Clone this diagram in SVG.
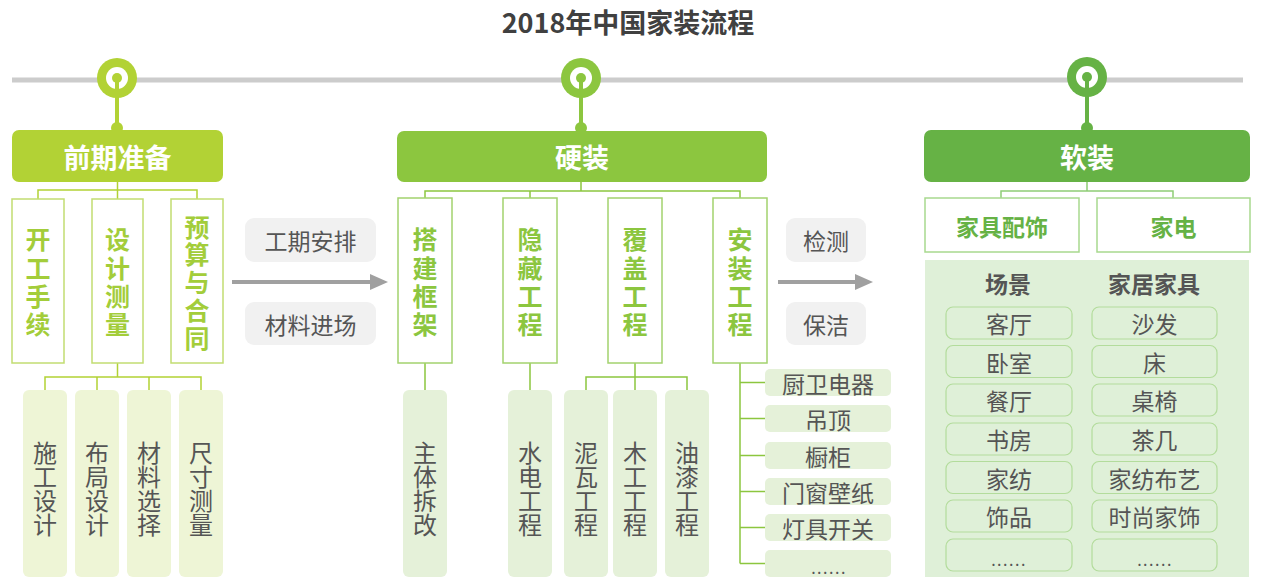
<svg xmlns="http://www.w3.org/2000/svg" width="1269" height="584" viewBox="0 0 1269 584">
<defs>
<style>
text{font-family:"Noto Sans CJK SC","Noto Sans",sans-serif;}
.title{font-size:27px;font-weight:bold;fill:#404040;}
.hdr{font-size:27px;font-weight:bold;fill:#fff;text-anchor:middle;dominant-baseline:central;}
.v1{font-size:25px;font-weight:bold;fill:#a3cd3a;text-anchor:middle;writing-mode:vertical-rl;letter-spacing:3.3px;}
.v1b{letter-spacing:2.75px;}
.v2{font-size:25px;font-weight:bold;fill:#8cc63f;text-anchor:middle;writing-mode:vertical-rl;letter-spacing:3.3px;}
.g3{font-size:23px;font-weight:bold;fill:#66b245;text-anchor:middle;dominant-baseline:central;}
.sv{font-size:24px;fill:#555;text-anchor:middle;writing-mode:vertical-rl;}
.lbl{font-size:23px;fill:#555;text-anchor:middle;dominant-baseline:central;}
.hb{font-size:23px;font-weight:bold;fill:#555;text-anchor:middle;dominant-baseline:central;}
.dots{font-size:16px;fill:#555;text-anchor:middle;letter-spacing:1.5px;}
.b1{fill:#fff;stroke:#c2dd72;stroke-width:1.5;}
.b2{fill:#fff;stroke:#a3d26e;stroke-width:1.5;}
.b3{fill:#fff;stroke:#a8d98e;stroke-width:1.5;}
.s1{fill:#eef5d6;}
.s2{fill:#e5f1d9;}
.pill{fill:none;stroke:#b3dc9c;stroke-width:1.2;}
.lb{fill:#f1f1f1;}
.c1{stroke:#b2d235;stroke-width:1.5;fill:none;}
.c2{stroke:#8cc63f;stroke-width:1.5;fill:none;}
.c3{stroke:#8fcd76;stroke-width:1.5;fill:none;}
.arr{stroke:#a0a0a0;stroke-width:4;fill:none;marker-end:url(#ah);}
</style>
<marker id="ah" markerWidth="5" markerHeight="4" refX="0.5" refY="2" orient="auto" markerUnits="strokeWidth">
<path d="M0,0 L4.5,2 L0,4 Z" fill="#a0a0a0"/>
</marker>
</defs>
<rect width="1269" height="584" fill="#fff"/>
<text class="title" x="628" y="33" text-anchor="middle">2018年中国家装流程</text>

<g id="timeline">
<line x1="12" y1="80" x2="1243" y2="80" stroke="#cccccc" stroke-width="5"/>
</g>

<g id="connectors">
<circle cx="117" cy="78" r="20" fill="#b2d235"/>
<circle cx="117" cy="78" r="11" fill="#fff"/>
<line x1="117" y1="78" x2="117" y2="128" stroke="#b2d235" stroke-width="4"/>
<circle cx="117" cy="78" r="5" fill="#b2d235"/>
<circle cx="117" cy="128" r="6" fill="#b2d235"/>

<circle cx="581" cy="78" r="20" fill="#8cc63f"/>
<circle cx="581" cy="78" r="11" fill="#fff"/>
<line x1="581" y1="78" x2="581" y2="128" stroke="#8cc63f" stroke-width="4"/>
<circle cx="581" cy="78" r="5" fill="#8cc63f"/>
<circle cx="581" cy="128" r="6" fill="#8cc63f"/>

<circle cx="1087" cy="77" r="20" fill="#66b245"/>
<circle cx="1087" cy="77" r="11" fill="#fff"/>
<line x1="1087" y1="77" x2="1087" y2="128" stroke="#66b245" stroke-width="4"/>
<circle cx="1087" cy="77" r="5" fill="#66b245"/>
<circle cx="1087" cy="128" r="6" fill="#66b245"/>

<path class="c1" d="M117.5,182 V190 M38,199 V190 H197 V199 M117.5,190 V199"/>
<path class="c1" d="M117.5,363 V377 M45,390 V377 H201 V390 M97,377 V390 M149,377 V390"/>
<path class="c2" d="M581,182 V191 M425,198 V191 H740 V198 M530,191 V198"/>
<path class="c2" d="M425,363 V390 M530,363 V390"/>
<path class="c2" d="M635,363 V377 M586,390 V377 H687 V390 M635,377 V390"/>
<path class="c2" d="M740,363 V563.5 M740,382.5 H765 M740,418.5 H765 M740,455.5 H765 M740,491.5 H765 M740,527.5 H765 M740,563.5 H765"/>
<path class="c3" d="M1087,182 V191 M1001,198 V191 H1173 V198"/>
<line class="arr" x1="232" y1="282" x2="372" y2="282"/>
<line class="arr" x1="778" y1="282" x2="857" y2="282"/>
</g>

<g id="n-qianqi">
<rect x="12" y="130" width="211" height="52" rx="7" fill="#b2d235"/>
<text class="hdr" x="117.5" y="156">前期准备</text>
</g>
<g id="n-yingzhuang">
<rect x="397" y="131" width="370" height="51" rx="7" fill="#8cc63f"/>
<text class="hdr" x="582" y="156.5">硬装</text>
</g>
<g id="n-ruanzhuang">
<rect x="924" y="130" width="326" height="52" rx="7" fill="#66b245"/>
<text class="hdr" x="1087" y="156">软装</text>
</g>

<g id="n-kaigong">
<rect class="b1" x="12" y="199" width="52" height="164"/>
<text class="v1" x="38" y="284">开工手续</text>
</g>
<g id="n-sheji">
<rect class="b1" x="92" y="199" width="51" height="164"/>
<text class="v1" x="117.5" y="284">设计测量</text>
</g>
<g id="n-yusuan">
<rect class="b1" x="171" y="199" width="52" height="164"/>
<text class="v1 v1b" x="197" y="284">预算与合同</text>
</g>

<g id="n-shigongsheji">
<rect class="s1" x="23" y="390" width="44" height="187" rx="6"/>
<text class="sv" x="45" y="489">施工设计</text>
</g>
<g id="n-bujusheji">
<rect class="s1" x="75" y="390" width="44" height="187" rx="6"/>
<text class="sv" x="97" y="489">布局设计</text>
</g>
<g id="n-cailiaoxuanze">
<rect class="s1" x="127" y="390" width="44" height="187" rx="6"/>
<text class="sv" x="149" y="489">材料选择</text>
</g>
<g id="n-chicun">
<rect class="s1" x="179" y="390" width="44" height="187" rx="6"/>
<text class="sv" x="201" y="489">尺寸测量</text>
</g>

<g id="n-gongqi">
<rect class="lb" x="245" y="218" width="131" height="44" rx="9"/>
<text class="lbl" x="310.5" y="240">工期安排</text>
</g>
<g id="n-cailiaojinchang">
<rect class="lb" x="245" y="302" width="131" height="43" rx="9"/>
<text class="lbl" x="310.5" y="323.5">材料进场</text>
</g>
<g id="n-jiance">
<rect class="lb" x="786" y="218" width="80" height="44" rx="9"/>
<text class="lbl" x="826" y="240">检测</text>
</g>
<g id="n-baojie">
<rect class="lb" x="786" y="302" width="80" height="43" rx="9"/>
<text class="lbl" x="826" y="323.5">保洁</text>
</g>

<g id="n-dajian">
<rect class="b2" x="398" y="198" width="54" height="165"/>
<text class="v2" x="425" y="284">搭建框架</text>
</g>
<g id="n-yincang">
<rect class="b2" x="503" y="198" width="54" height="165"/>
<text class="v2" x="530" y="284">隐藏工程</text>
</g>
<g id="n-fugai">
<rect class="b2" x="608" y="198" width="54" height="165"/>
<text class="v2" x="635" y="284">覆盖工程</text>
</g>
<g id="n-anzhuang">
<rect class="b2" x="713" y="198" width="54" height="165"/>
<text class="v2" x="740" y="284">安装工程</text>
</g>

<g id="n-zhuti">
<rect class="s2" x="403" y="390" width="44" height="187" rx="6"/>
<text class="sv" x="425" y="489">主体拆改</text>
</g>
<g id="n-shuidian">
<rect class="s2" x="508" y="390" width="44" height="187" rx="6"/>
<text class="sv" x="530" y="489">水电工程</text>
</g>
<g id="n-niwa">
<rect class="s2" x="564" y="390" width="44" height="187" rx="6"/>
<text class="sv" x="586" y="489">泥瓦工程</text>
</g>
<g id="n-mugong">
<rect class="s2" x="613" y="390" width="44" height="187" rx="6"/>
<text class="sv" x="635" y="489">木工工程</text>
</g>
<g id="n-youqi">
<rect class="s2" x="665" y="390" width="44" height="187" rx="6"/>
<text class="sv" x="687" y="489">油漆工程</text>
</g>

<g id="n-chuwei">
<rect class="s2" x="765" y="369" width="126" height="27" rx="5"/>
<text class="lbl" x="828" y="382.5">厨卫电器</text>
</g>
<g id="n-diaoding">
<rect class="s2" x="765" y="405" width="126" height="27" rx="5"/>
<text class="lbl" x="828" y="418.5">吊顶</text>
</g>
<g id="n-chugui">
<rect class="s2" x="765" y="442" width="126" height="27" rx="5"/>
<text class="lbl" x="828" y="455.5">橱柜</text>
</g>
<g id="n-menchuang">
<rect class="s2" x="765" y="478" width="126" height="27" rx="5"/>
<text class="lbl" x="828" y="491.5">门窗壁纸</text>
</g>
<g id="n-dengju">
<rect class="s2" x="765" y="514" width="126" height="27" rx="5"/>
<text class="lbl" x="828" y="527.5">灯具开关</text>
</g>
<g id="n-more2">
<rect class="s2" x="765" y="550" width="126" height="27" rx="5"/>
<text class="dots" x="829" y="574">......</text>
</g>

<g id="n-jiajupeishi">
<rect class="b3" x="925" y="198" width="154" height="54"/>
<text class="g3" x="1002" y="226">家具配饰</text>
</g>
<g id="n-jiadian">
<rect class="b3" x="1097" y="198" width="153" height="54"/>
<text class="g3" x="1173.5" y="226">家电</text>
</g>

<g id="n-panel">
<rect x="925" y="260" width="324" height="317" fill="#dff0d8"/>
<text class="hb" x="1008" y="283">场景</text>
<text class="hb" x="1154" y="283">家居家具</text>
</g>
<g id="n-scenes">
<rect class="pill" x="946" y="307" width="126" height="32" rx="7"/>
<text class="lbl" x="1009" y="323">客厅</text>
<rect class="pill" x="946" y="345.5" width="126" height="32" rx="7"/>
<text class="lbl" x="1009" y="361.5">卧室</text>
<rect class="pill" x="946" y="384" width="126" height="32" rx="7"/>
<text class="lbl" x="1009" y="400">餐厅</text>
<rect class="pill" x="946" y="423" width="126" height="32" rx="7"/>
<text class="lbl" x="1009" y="439">书房</text>
<rect class="pill" x="946" y="461.5" width="126" height="32" rx="7"/>
<text class="lbl" x="1009" y="477.5">家纺</text>
<rect class="pill" x="946" y="500" width="126" height="32" rx="7"/>
<text class="lbl" x="1009" y="516">饰品</text>
<rect class="pill" x="946" y="539" width="126" height="32" rx="7"/>
<text class="dots" x="1009" y="566">......</text>
</g>
<g id="n-furniture">
<rect class="pill" x="1092" y="307" width="125" height="32" rx="7"/>
<text class="lbl" x="1154.5" y="323">沙发</text>
<rect class="pill" x="1092" y="345.5" width="125" height="32" rx="7"/>
<text class="lbl" x="1154.5" y="361.5">床</text>
<rect class="pill" x="1092" y="384" width="125" height="32" rx="7"/>
<text class="lbl" x="1154.5" y="400">桌椅</text>
<rect class="pill" x="1092" y="423" width="125" height="32" rx="7"/>
<text class="lbl" x="1154.5" y="439">茶几</text>
<rect class="pill" x="1092" y="461.5" width="125" height="32" rx="7"/>
<text class="lbl" x="1154.5" y="477.5">家纺布艺</text>
<rect class="pill" x="1092" y="500" width="125" height="32" rx="7"/>
<text class="lbl" x="1154.5" y="516">时尚家饰</text>
<rect class="pill" x="1092" y="539" width="125" height="32" rx="7"/>
<text class="dots" x="1155" y="566">......</text>
</g>
</svg>
